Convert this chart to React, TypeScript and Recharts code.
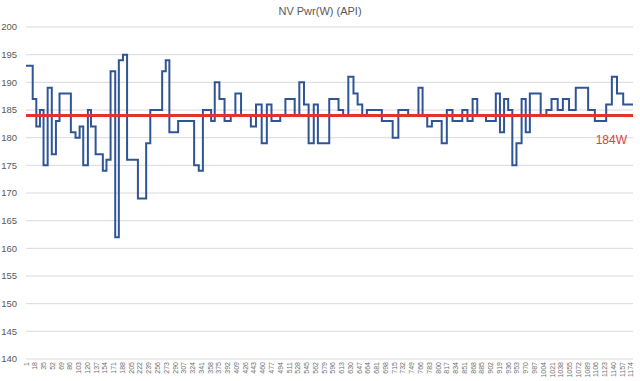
import { LineChart, Line, XAxis, YAxis, CartesianGrid, ReferenceLine } from 'recharts'

// sample index where the reading changes, and the reading from there on
const changeAt = [
  1, 14, 21, 28, 35, 43, 51, 59, 66, 88,
  97, 105, 112, 121, 127, 136, 150, 157, 165, 174,
  181, 189, 197, 218, 234, 242, 265, 272, 279, 296,
  327, 336, 344, 360, 367, 376, 386, 398, 407, 418,
  437, 447, 458, 468, 477, 494, 504, 522, 531, 540,
  549, 559, 567, 589, 607, 616, 626, 636, 644, 653,
  662, 691, 712, 723, 742, 762, 770, 779, 788, 807,
  817, 828, 847, 857, 867, 876, 893, 912, 920, 928,
  936, 944, 952, 962, 970, 978, 999, 1010, 1020, 1032,
  1042, 1054, 1067, 1091, 1104, 1126, 1137, 1147, 1159, 1178,
]
const watts = [
  193, 187, 182, 185, 175, 189, 177, 183, 188, 181,
  180, 182, 175, 185, 182, 177, 174, 176, 192, 162,
  194, 195, 176, 169, 179, 185, 192, 194, 181, 183,
  175, 174, 185, 183, 190, 187, 183, 184, 188, 184,
  182, 186, 179, 186, 183, 184, 187, 184, 190, 186,
  179, 186, 179, 187, 185, 184, 191, 188, 186, 184,
  185, 183, 180, 185, 184, 189, 184, 182, 183, 179,
  185, 183, 185, 183, 187, 184, 183, 188, 181, 187,
  185, 175, 179, 187, 181, 188, 184, 185, 187, 185,
  187, 185, 189, 185, 183, 186, 191, 188, 186, 186,
]
const xTicks = [
  1, 18, 35, 52, 69, 86, 103, 120, 137, 154, 171, 188, 205, 222, 239, 256, 273, 290, 307, 324,
  341, 358, 375, 392, 409, 426, 443, 460, 477, 494, 511, 528, 545, 562, 579, 596, 613, 630, 647, 664,
  681, 698, 715, 732, 749, 766, 783, 800, 817, 834, 851, 868, 885, 902, 919, 936, 953, 970, 987, 1004,
  1021, 1038, 1055, 1072, 1089, 1106, 1123, 1140, 1157, 1174,
]
const yTicks = [140, 145, 150, 155, 160, 165, 170, 175, 180, 185, 190, 195, 200]
const target = 184
const targetLabel = '184W'
const title = 'NV Pwr(W) (API)'

const data = changeAt.map((i, k) => ({ i, w: watts[k] }))

const font = '"Liberation Sans", Arial, sans-serif'

function XTick({ x, y, payload }: any) {
  return (
    <text
      x={x}
      y={y}
      transform={`rotate(-90, ${x}, ${y})`}
      textAnchor="end"
      dominantBaseline="central"
      fontSize={7}
      fill="#6d6d6d"
      fontFamily={font}
    >
      {payload.value}
    </text>
  )
}

function TargetLabel({ viewBox }: any) {
  return (
    <text
      x={viewBox.x + viewBox.width - 6}
      y={viewBox.y + 28}
      textAnchor="end"
      fontSize={12}
      fill="#d9433c"
      fontFamily={font}
    >
      {targetLabel}
    </text>
  )
}

export default function App() {
  return (
    <div style={{ position: 'absolute', left: 0, top: 0, width: 640, height: 381, background: '#fff', fontFamily: font }}>
      <div style={{ position: 'absolute', top: 5, left: 0, width: 640, textAlign: 'center', fontSize: 11, color: '#595959' }}>
        {title}
      </div>
      <LineChart width={640} height={381} data={data} margin={{ top: 27, right: 7, bottom: 0, left: 0 }}>
        <CartesianGrid vertical={false} stroke="#d9d9d9" />
        <XAxis
          dataKey="i"
          type="number"
          domain={[1, 1178]}
          ticks={xTicks}
          interval={0}
          height={22}
          tickSize={0}
          tickMargin={3}
          axisLine={false}
          tickLine={false}
          tick={<XTick />}
        />
        <YAxis
          domain={[140, 200]}
          ticks={yTicks}
          interval={0}
          width={26}
          axisLine={false}
          tickLine={false}
          tickMargin={3}
          tick={{ fontSize: 9.5, fill: '#595959', fontFamily: font }}
        />
        <Line
          type="stepAfter"
          dataKey="w"
          stroke="#2f5597"
          strokeWidth={2}
          dot={false}
          isAnimationActive={false}
        />
        <ReferenceLine y={target} stroke="#e0342c" strokeWidth={3} label={<TargetLabel />} />
      </LineChart>
    </div>
  )
}
